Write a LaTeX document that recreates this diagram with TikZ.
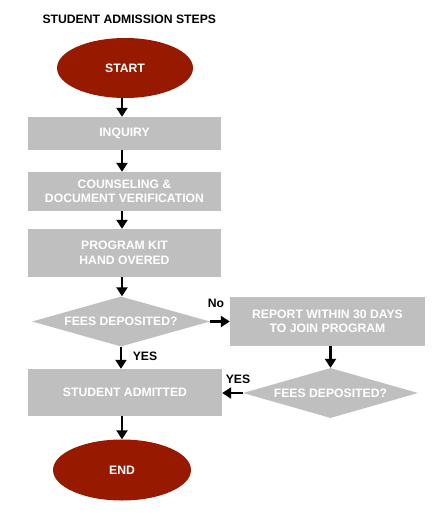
\documentclass[tikz,border=0pt]{standalone}
\usepackage{fontspec}
\setmainfont{Liberation Sans}
\usetikzlibrary{shapes.geometric,arrows.meta}
\definecolor{endred}{HTML}{961900}
\definecolor{boxgray}{HTML}{BFBFBF}
\begin{document}
\begin{tikzpicture}[x=1pt,y=-1pt,
  txt/.style={text=white,font=\fontsize{12.2}{14.5}\selectfont\bfseries,align=center},
  term/.style={ellipse,fill=endred,inner sep=0pt,txt},
  procbox/.style={rectangle,fill=boxgray,inner sep=0pt,txt},
  decis/.style={diamond,fill=boxgray,inner sep=0pt,aspect=3.6,txt},
  arr/.style={line width=2.2pt,-{Triangle[length=9pt,width=11pt]}},
  lbl/.style={font=\fontsize{12.2}{14}\selectfont\bfseries,text=black}]
\useasboundingbox (0,0) rectangle (443,522);
\node[font=\fontsize{12.2}{14}\selectfont\bfseries,anchor=west] (title) at (39,19) {STUDENT ADMISSION STEPS};
\node[term,minimum width=136pt,minimum height=60pt] (start) at (125,68) {START};
\node[procbox,minimum width=193pt,minimum height=33pt] (inq) at (124.5,133.5) {INQUIRY};
\node[procbox,minimum width=193pt,minimum height=39pt] (couns) at (124.5,191.5) {COUNSELING \&\\DOCUMENT VERIFICATION};
\node[procbox,minimum width=193pt,minimum height=48pt] (kit) at (124.5,253) {PROGRAM KIT\\HAND OVERED};
\node[decis,minimum width=178pt,minimum height=50pt] (fees1) at (121,321.5) {FEES DEPOSITED?};
\node[procbox,minimum width=195pt,minimum height=49pt] (report) at (327.5,321.5) {REPORT WITHIN 30 DAYS\\TO JOIN PROGRAM};
\node[decis,minimum width=175pt,minimum height=50pt] (fees2) at (330.5,393) {FEES DEPOSITED?};
\node[procbox,minimum width=194pt,minimum height=47pt] (adm) at (125,392.5) {STUDENT ADMITTED};
\node[term,minimum width=138pt,minimum height=61pt] (end) at (122,470) {END};
\draw[arr] (start.south -| 122,0) -- (inq.north -| 122,0);
\draw[arr] (inq.south -| 122,0) -- (couns.north -| 122,0);
\draw[arr] (couns.south -| 122,0) -- (kit.north -| 122,0);
\draw[arr] (kit.south -| 122,0) -- (fees1.north -| 122,0);
\draw[arr] (fees1.east) -- (report.west);
\draw[arr] (fees1.south) -- (adm.north -| fees1.south);
\draw[arr] (report.south -| fees2.north) -- (fees2.north);
\draw[arr] (fees2.west) -- (adm.east |- fees2.west);
\draw[arr] (adm.south -| 122,0) -- (end.north -| 122,0);
\node[lbl] (no) at (216,303) {No};
\node[lbl] (yes1) at (145,356) {YES};
\node[lbl] (yes2) at (238,379) {YES};
\end{tikzpicture}
\end{document}
